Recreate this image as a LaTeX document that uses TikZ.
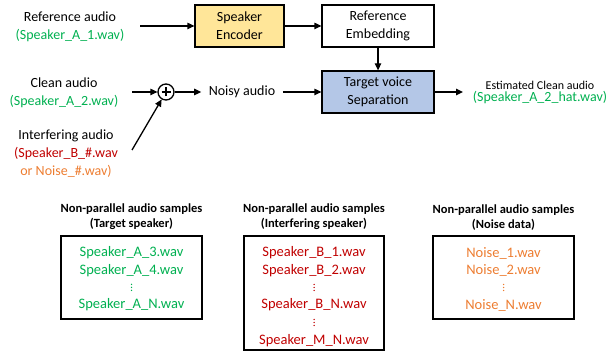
\documentclass[tikz,border=0pt]{standalone}
\usepackage{fontspec}
\setmainfont{Carlito}
\usetikzlibrary{arrows.meta}
\definecolor{cgreen}{HTML}{00B050}
\definecolor{cred}{HTML}{C00000}
\definecolor{corange}{HTML}{ED7D31}
\definecolor{cyellow}{HTML}{FFE699}
\definecolor{cblue}{HTML}{B4C7E7}
\newcommand\fs[2]{\fontsize{#1}{#2}\selectfont}
\tikzset{
  blk/.style={draw=black, line width=1.3pt, minimum width=#1, minimum height=42pt, inner sep=0pt, align=center, font=\fs{14}{18}},
  lbl/.style={align=center, inner sep=0pt, font=\fs{14}{18}},
  ttl/.style={align=center, inner sep=0pt, font=\bfseries\fs{12.5}{15}},
  listbox/.style={draw=black, line width=1.3pt, inner sep=0pt},
  item/.style={inner sep=0pt, font=\fs{14.5}{17}},
  dts/.style={inner sep=0pt, minimum width=2pt, minimum height=9pt,
    path picture={\foreach \k in {-3,0,3} \fill ([yshift=\k pt]path picture bounding box.center) circle (0.75pt);}},
  arr/.style={line width=1.3pt, -{Triangle[length=7pt,width=6.5pt]}},
}
\begin{document}
\begin{tikzpicture}[x=1pt,y=-1pt]
\useasboundingbox (0,0) rectangle (611,352);
% top row
\node[lbl] (refa) at (70,27) {Reference audio\\\textcolor{cgreen}{(Speaker\_A\_1.wav)}};
\node[blk=89pt, fill=cyellow] (se) at (239.5,26) {Speaker\\Encoder};
\node[blk=112pt, fill=white] (re) at (378,26) {Reference\\Embedding};
\node[blk=112pt, fill=cblue] (tvs) at (378,92) {Target voice\\Separation};
\coordinate (refin) at (140,26);
\draw[arr] (refin) -- (se);
\draw[arr] (se) -- (re);
\draw[arr] (re) -- (tvs);
% middle row
\node[lbl] (clean) at (64,93) {Clean audio\\\textcolor{cgreen}{(Speaker\_A\_2.wav)}};
\node[lbl] (interf) at (66,153.5) {Interfering audio\\\textcolor{cred}{(Speaker\_B\_\#.wav}\\\textcolor{corange}{or Noise\_\#.wav)}};
\node[circle, draw=black, line width=1.3pt, minimum size=16pt, inner sep=0pt,
  path picture={\draw[line width=1.3pt] ([yshift=-4.5pt]path picture bounding box.center) -- ([yshift=4.5pt]path picture bounding box.center);
                \draw[line width=1.3pt] ([xshift=-4.5pt]path picture bounding box.center) -- ([xshift=4.5pt]path picture bounding box.center);}] (plus) at (166,92) {};
\coordinate (cleanin) at (132,92);
\coordinate (interin) at (132,150);
\draw[arr] (cleanin) -- (plus);
\draw[arr] (interin) -- (plus);
\node[lbl, inner xsep=7.5pt] (noisy) at (242,92) {Noisy audio};
\draw[arr] (plus) -- (noisy);
\draw[arr] (noisy) -- (tvs);
\coordinate (out) at (463,92);
\draw[arr] (tvs) -- (out);
\node[align=center, inner sep=0pt] (est) at (540,92) {{\fs{12}{16}Estimated Clean audio}\\{\fs{14}{17}\textcolor{cgreen}{(Speaker\_A\_2\_hat.wav)}}};
% bottom lists
\node[ttl] (t1) at (131.5,216.5) {Non-parallel audio samples\\(Target speaker)};
\node[ttl] (t2) at (314,216.5) {Non-parallel audio samples\\(Interfering speaker)};
\node[ttl] (t3) at (503.5,218) {Non-parallel audio samples\\(Noise data)};
\node[listbox, minimum width=141pt, minimum height=83pt] (b1) at (131.5,277.5) {};
\node[listbox, minimum width=140pt, minimum height=114pt] (b2) at (314,293) {};
\node[listbox, minimum width=141pt, minimum height=83pt] (b3) at (503.5,277.5) {};
\begin{scope}[text=cgreen]
\node[item] (a3) at (131.5,253) {Speaker\_A\_3.wav};
\node[item] (a4) at (131.5,270.5) {Speaker\_A\_4.wav};
\node[dts, cgreen] (ad) at (131.5,287.5) {};
\node[item] (an) at (131.5,305) {Speaker\_A\_N.wav};
\end{scope}
\begin{scope}[text=cred]
\node[item] (b1t) at (314,253) {Speaker\_B\_1.wav};
\node[item] (b2t) at (314,270.5) {Speaker\_B\_2.wav};
\node[dts, cred] (bd1) at (314,287.5) {};
\node[item] (bnt) at (314,305) {Speaker\_B\_N.wav};
\node[dts, cred] (bd2) at (314,322.5) {};
\node[item] (mnt) at (314,341) {Speaker\_M\_N.wav};
\end{scope}
\begin{scope}[text=corange]
\node[item] (n1) at (503.5,253) {Noise\_1.wav};
\node[item] (n2) at (503.5,270.5) {Noise\_2.wav};
\node[dts, corange] (nd) at (503.5,287.5) {};
\node[item] (nn) at (503.5,305) {Noise\_N.wav};
\end{scope}
\end{tikzpicture}
\end{document}
